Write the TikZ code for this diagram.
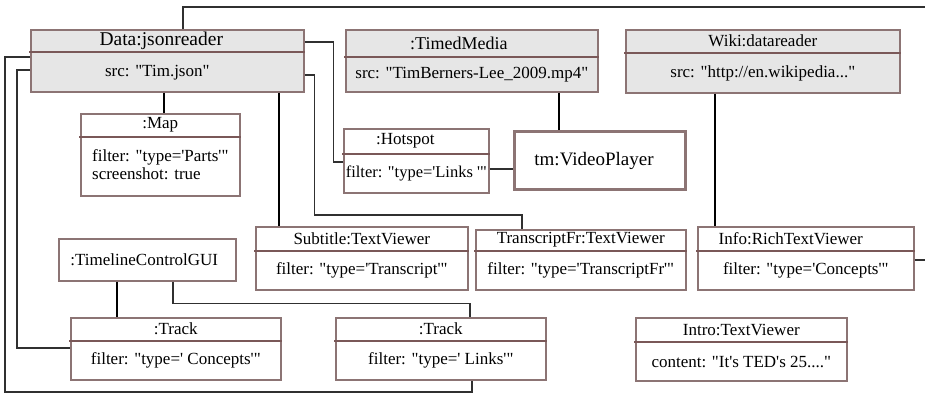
\documentclass[tikz,border=0pt]{standalone}
\usepackage{fontspec}
\setmainfont{Liberation Serif}[Ligatures=TeXOff]
\usetikzlibrary{calc}
\definecolor{bordc}{HTML}{8C7474}
\definecolor{divc}{HTML}{7A5858}
\definecolor{hdrfill}{HTML}{E6E6E6}
\definecolor{thinc}{HTML}{303030}
\tikzset{
  box/.style={draw=bordc, line width=1.6pt, rectangle, inner sep=0pt, fill=white},
  grbox/.style={box, fill=hdrfill},
  vbox/.style={box, line width=3pt},
  divline/.style={draw=divc, line width=2.2pt},
  ttl/.style={font=\fontsize{17}{20}\selectfont, inner sep=0pt},
  att/.style={font=\fontsize{17}{20}\selectfont, inner sep=0pt, align=center},
  thickc/.style={draw=black, line width=2.6pt},
  thinc/.style={draw=thinc, line width=1.3pt},
  dataTtl/.style={xshift=-6pt},
  dataAtt/.style={xshift=-10pt},
  timedTtl/.style={xshift=-13pt},
  hotspotTtl/.style={xshift=-11pt},
  infoTtl/.style={xshift=-15pt},
}
% name, x, y, w, h, div, style, title, attr
\newcommand\umlbox[9]{%
  \node[#7, anchor=north west, minimum width=#4pt, minimum height=#5pt] (#1) at (#2,#3) {};
  \draw[divline] ([yshift=-#6pt,xshift=-0.8pt]#1.north west) -- ([yshift=-#6pt,xshift=0.8pt]#1.north east);
  \node[ttl, /tikz/#1Ttl/.try] (#1-t) at ($(#1.north)!0.5!([yshift=-#6pt]#1.north)$) {#8};
  \node[att, /tikz/#1Att/.try] (#1-a) at ($([yshift=-#6pt]#1.north)!0.5!(#1.south)$) {#9};
}
\begin{document}
\begin{tikzpicture}[x=1pt,y=-1pt]
\useasboundingbox (0,0) rectangle (925,393);
\fill[white] (0,0) rectangle (925,393);

\umlbox{data}{30}{29}{273}{62}{23}{grbox}{\fontsize{19.5}{22}\selectfont Data:jsonreader}{src: "Tim.json"}
\umlbox{timed}{345}{29}{252}{62}{28}{grbox}{\fontsize{18}{21}\selectfont :TimedMedia}{src: "TimBerners-Lee\_2009.mp4"}
\umlbox{wiki}{625}{29}{274}{63}{24}{grbox}{Wiki:datareader}{src: "http://en.wikipedia..."}
\umlbox{map}{80}{113}{159}{82}{24}{box}{:Map}{\begin{tabular}{@{}l@{}}filter: "type='Parts'"\\[-2pt] screenshot: true\end{tabular}}
\umlbox{hotspot}{343}{128}{145}{64}{26}{box}{:Hotspot}{\fontsize{16.5}{19}\selectfont filter: "type='Links '"}
\umlbox{subtitle}{255}{226}{212}{63}{25}{box}{Subtitle:TextViewer}{filter: "type='Transcript'"}
\umlbox{transfr}{475}{229}{210}{60}{22}{box}{TranscriptFr:TextViewer}{filter: "type='TranscriptFr'"}
\umlbox{info}{697}{226}{216}{63}{25}{box}{Info:RichTextViewer}{filter: "type='Concepts'"}
\umlbox{track1}{70}{317}{210}{62}{24}{box}{:Track}{filter: "type=' Concepts'"}
\umlbox{track2}{335}{317}{210}{62}{24}{box}{:Track}{filter: "type=' Links'"}
\umlbox{intro}{635}{317}{211}{63}{25}{box}{Intro:TextViewer}{content: "It's TED's 25...."}

\node[vbox, anchor=north west, minimum width=171pt, minimum height=58pt] (video) at (513,130) {};
\node[font=\fontsize{19}{22}\selectfont, inner sep=0pt, xshift=-6pt] (video-t) at (video.center) {tm:VideoPlayer};
\node[box, anchor=north west, minimum width=177pt, minimum height=42pt] (timeline) at (58,238) {};
\node[ttl, xshift=-3pt] (timeline-t) at (timeline.center) {:TimelineControlGUI};

\coordinate (offR1) at (925,7);
\coordinate (offR2) at (925,260);

% connectors
\draw[thinc] ([xshift=153pt]data.north west) |- (offR1);
\draw[thinc] ([yshift=-13pt]data.north east) -- ++(29,0) |- ([yshift=-34pt]hotspot.north west);
\draw[thinc] ([yshift=-46pt]data.north east) -- ++(10,0) -- ++(0,140) -| ([xshift=47pt]transfr.north west);
\draw[thickc] ([xshift=134pt]data.south west) -- ([xshift=134pt]data.south west |- map.north);
\draw[thickc] ([xshift=249pt]data.south west) -- ([xshift=249pt]data.south west |- subtitle.north);
\draw[thinc] ([yshift=-28pt]data.north west) -- ++(-25,0) -- ++(0,335) -| ([xshift=137pt]track2.south west);
\draw[thinc] ([yshift=-41pt]data.north west) -- ++(-13,0) |- ([yshift=-31pt]track1.north west);
\draw[thickc] ([xshift=214pt]timed.south west) -- ([xshift=214pt]timed.south west |- video.north);
\draw[thinc] ([yshift=-41pt]hotspot.north east) -- ([yshift=-41pt]hotspot.north east -| video.west);
\draw[thickc] ([xshift=90pt]wiki.south west) -- ([xshift=90pt]wiki.south west |- info.north);
\draw[thinc] ([yshift=-34pt]info.north east) -- (offR2);
\draw[thickc] ([xshift=59pt]timeline.south west) -- ([xshift=59pt]timeline.south west |- track1.north);
\draw[thinc] ([xshift=115pt]timeline.south west) -- ++(0,22) -| ([xshift=135pt]track2.north west);
\end{tikzpicture}
\end{document}
